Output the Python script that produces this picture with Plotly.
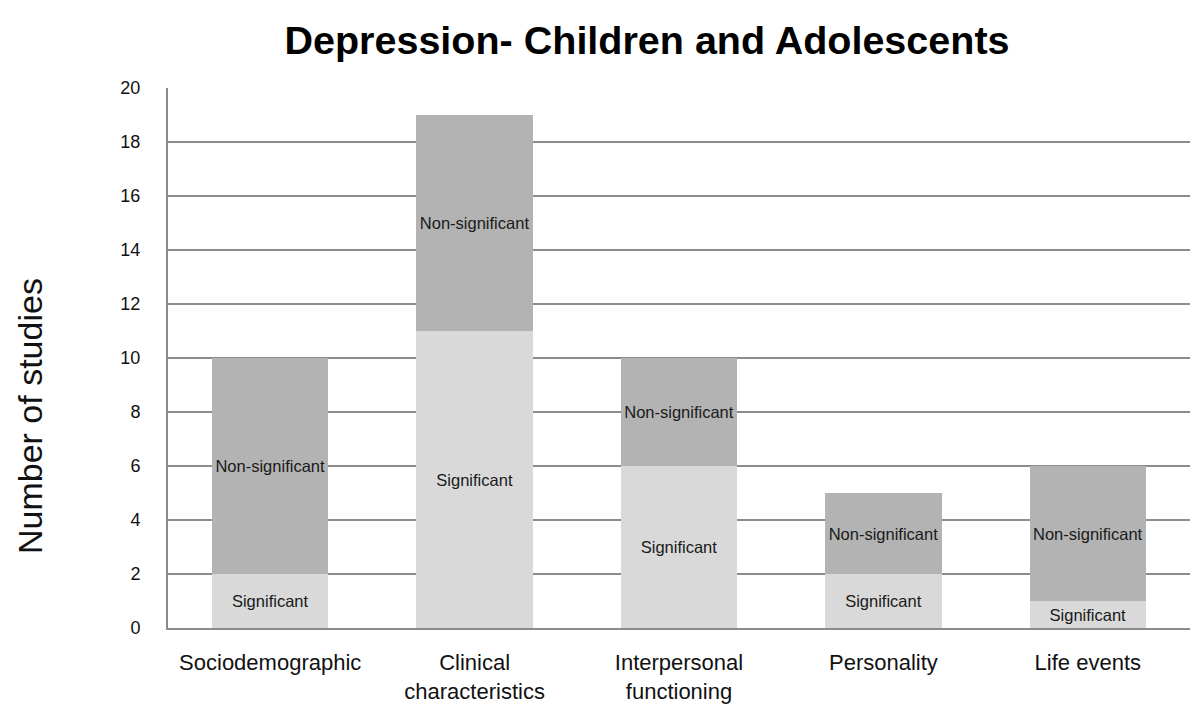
import plotly.graph_objects as go

categories = ["Sociodemographic", "Clinical<br>characteristics", "Interpersonal<br>functioning",
              "Personality", "Life events"]
significant = [2, 11, 6, 2, 1]
non_significant = [8, 8, 4, 3, 5]
y_ticks = [0, 2, 4, 6, 8, 10, 12, 14, 16, 18, 20]

FONT = "Liberation Sans, Arial, sans-serif"
GRID = "#8c8c8c"
W, H = 1192, 706
L, R, T, B = 168, 2, 88, 78

fig = go.Figure()
for vals, name, color in [(significant, "Significant", "#d9d9d9"),
                          (non_significant, "Non-significant", "#b3b3b3")]:
    fig.add_trace(go.Bar(
        x=categories, y=vals, name=name,
        marker=dict(color=color, line=dict(width=0)),
        text=[name] * len(categories), textposition="inside", textangle=0,
        insidetextanchor="middle", constraintext="none",
        textfont=dict(family=FONT, size=16.5, color="#1a1a1a"),
    ))

# vertical axis caption, placed in pixel terms relative to the plot area
plot_w, plot_h = W - L - R, H - T - B
fig.add_annotation(
    text="Number of studies", textangle=-90, showarrow=False,
    xref="paper", yref="paper",
    x=(30 - L) / plot_w, y=(H - B - 416) / plot_h,
    xanchor="center", yanchor="middle",
    font=dict(family=FONT, size=34, color="#111111"),
)

fig.update_layout(
    width=W, height=H,
    barmode="stack", bargap=0.43,
    showlegend=False,
    plot_bgcolor="white", paper_bgcolor="white",
    margin=dict(l=L, r=R, t=T, b=B),
    font=dict(family=FONT, color="#111111"),
    title=dict(
        text="<b>Depression- Children and Adolescents</b>",
        x=647 / W, xanchor="center", xref="container",
        y=1 - 40 / H, yanchor="middle", yref="container",
        font=dict(family=FONT, size=39.5, color="black"),
    ),
    yaxis=dict(
        range=[0, 20], tickvals=y_ticks,
        showgrid=True, gridcolor=GRID, gridwidth=2,
        zeroline=False, showline=True, linecolor=GRID, linewidth=2,
        ticks="", ticklabelstandoff=22,
        tickfont=dict(family=FONT, size=18, color="#111111"),
    ),
    xaxis=dict(
        showline=True, linecolor=GRID, linewidth=2,
        ticks="", ticklabelstandoff=14,
        tickfont=dict(family=FONT, size=22, color="#111111"),
    ),
)

fig.write_html("out.html")
